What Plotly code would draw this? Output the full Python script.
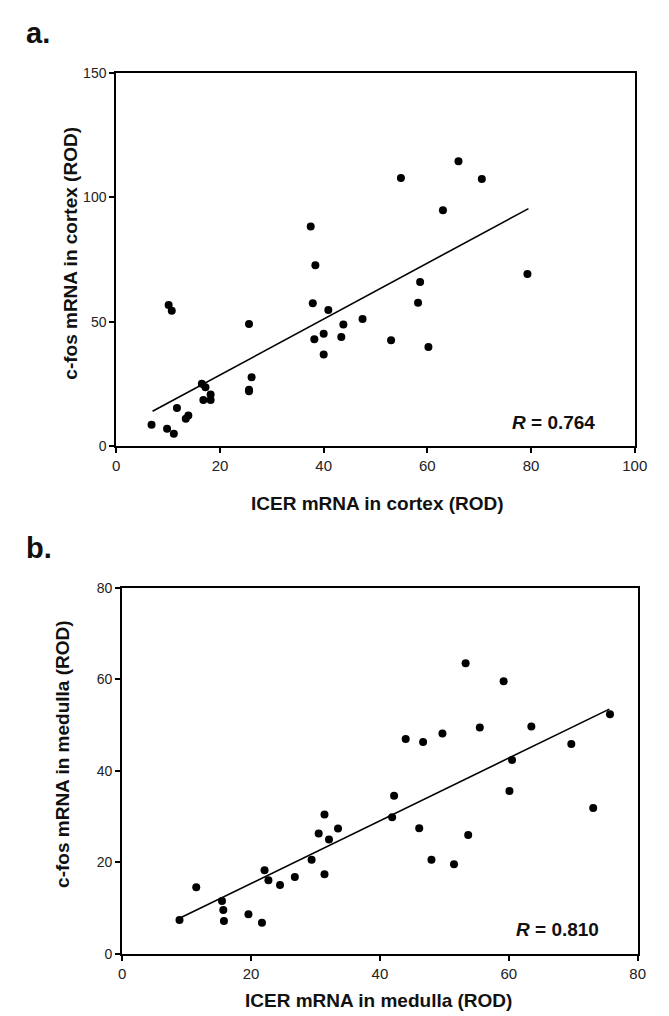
import plotly.graph_objects as go

# ---------------- Panel a: cortex ----------------
icer_cortex = [6.8, 9.8, 11.1, 11.7, 13.4, 13.9, 10.1, 10.7, 16.5, 17.2, 16.8, 18.2, 18.2,
               25.6, 26.1, 25.6, 25.6, 37.5, 38.4, 37.9, 40.9, 38.2, 40.0, 40.0, 43.4, 43.8,
               47.5, 53.0, 60.2, 58.2, 58.6, 54.9, 66.0, 70.5, 63.0, 79.3]
cfos_cortex = [8.6, 7.0, 5.0, 15.3, 11.0, 12.3, 56.7, 54.4, 25.1, 23.7, 18.5, 20.8, 18.5,
               49.1, 27.7, 22.7, 22.1, 88.3, 72.7, 57.4, 54.7, 43.0, 45.2, 36.8, 43.9, 48.9,
               51.1, 42.6, 39.9, 57.7, 66.0, 107.8, 114.6, 107.4, 94.8, 69.2]
fit_cortex_x = [7.0, 79.5]
fit_cortex_y = [14.0, 95.5]
r_cortex = "0.764"

# ---------------- Panel b: medulla ----------------
icer_medulla = [8.9, 11.5, 15.5, 15.7, 15.8, 19.6, 21.7, 22.1, 22.7, 24.5, 26.8, 29.4,
                31.4, 30.5, 31.4, 32.1, 33.5, 41.9, 42.2, 44.0, 46.7, 49.7, 46.1, 48.0,
                51.5, 53.7, 53.3, 55.5, 59.2, 60.1, 60.5, 63.5, 69.7, 73.1, 75.7]
cfos_medulla = [7.4, 14.6, 11.6, 9.6, 7.2, 8.7, 6.8, 18.3, 16.1, 15.1, 16.8, 20.6,
                17.4, 26.3, 30.5, 25.0, 27.4, 29.9, 34.6, 47.0, 46.3, 48.2, 27.5, 20.6,
                19.6, 26.0, 63.5, 49.5, 59.6, 35.6, 42.4, 49.7, 45.9, 31.9, 52.4]
fit_medulla_x = [8.9, 75.6]
fit_medulla_y = [7.8, 53.5]
r_medulla = "0.810"

W, H = 669, 1016

def px(x):
    return x / W

def py(y):
    return 1 - y / H

fig = go.Figure()

marker = dict(color="black", size=8, line=dict(width=0))
fig.add_trace(go.Scatter(x=icer_cortex, y=cfos_cortex, mode="markers", marker=marker,
                         xaxis="x", yaxis="y", showlegend=False))
fig.add_trace(go.Scatter(x=fit_cortex_x, y=fit_cortex_y, mode="lines",
                         line=dict(color="black", width=1.6), xaxis="x", yaxis="y",
                         showlegend=False))
fig.add_trace(go.Scatter(x=icer_medulla, y=cfos_medulla, mode="markers", marker=marker,
                         xaxis="x2", yaxis="y2", showlegend=False))
fig.add_trace(go.Scatter(x=fit_medulla_x, y=fit_medulla_y, mode="lines",
                         line=dict(color="black", width=1.6), xaxis="x2", yaxis="y2",
                         showlegend=False))

fam = "Liberation Sans, Arial, sans-serif"
xtickfont = dict(family=fam, size=15, color="#222")
ytickfont = dict(family=fam, size=14, color="#222")
axis_common = dict(showline=True, linecolor="black", linewidth=2, mirror=True,
                   ticks="outside", ticklen=5, tickwidth=1.5, tickcolor="black",
                   showgrid=False, zeroline=False, fixedrange=True)

fig.update_layout(
    width=W, height=H,
    margin=dict(l=0, r=0, t=0, b=0),
    paper_bgcolor="white", plot_bgcolor="white",
    xaxis=dict(domain=[px(107), px(639)], range=[0, 100], tickvals=[0, 20, 40, 60, 80, 100],
               anchor="y", tickfont=xtickfont, **axis_common),
    yaxis=dict(domain=[py(437), py(58)], range=[0, 150], tickvals=[0, 50, 100, 150],
               anchor="x", tickfont=ytickfont, **axis_common),
    xaxis2=dict(domain=[px(113), px(642)], range=[0, 80], tickvals=[0, 20, 40, 60, 80],
                anchor="y2", tickfont=xtickfont, **axis_common),
    yaxis2=dict(domain=[py(953), py(581)], range=[0, 80], tickvals=[0, 20, 40, 60, 80],
                anchor="x2", tickfont=ytickfont, **axis_common),
)

title_font = dict(family=fam, size=19, color="#111")
label_font = dict(family=fam, size=29, color="#111")
ann = []
# panel labels
ann.append(dict(text="<b>a.</b>", x=px(12), y=py(17), xanchor="left", yanchor="middle",
                font=label_font))
ann.append(dict(text="<b>b.</b>", x=px(12), y=py(541), xanchor="left", yanchor="middle",
                font=label_font))
# axis titles
ann.append(dict(text="<b>ICER mRNA in cortex (ROD)</b>", x=px(375), y=py(495),
                xanchor="center", yanchor="middle", font=title_font))
ann.append(dict(text="<b>c-fos mRNA in cortex (ROD)</b>", x=px(60), y=py(241),
                xanchor="center", yanchor="middle", textangle=-90, font=title_font))
ann.append(dict(text="<b>ICER mRNA in medulla (ROD)</b>", x=px(376), y=py(1000),
                xanchor="center", yanchor="middle", font=title_font))
ann.append(dict(text="<b>c-fos mRNA in medulla (ROD)</b>", x=px(51), y=py(750),
                xanchor="center", yanchor="middle", textangle=-90, font=title_font))
# R values
ann.append(dict(text="<b><i>R</i> = " + r_cortex + "</b>", x=px(556), y=py(413),
                xanchor="center", yanchor="middle", font=title_font))
ann.append(dict(text="<b><i>R</i> = " + r_medulla + "</b>", x=px(560), y=py(928),
                xanchor="center", yanchor="middle", font=title_font))
for a in ann:
    a.update(xref="paper", yref="paper", showarrow=False)
fig.update_layout(annotations=ann)

fig.write_html("out.html")
